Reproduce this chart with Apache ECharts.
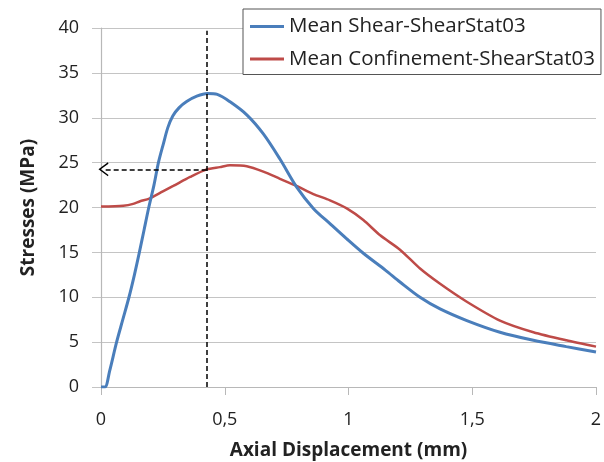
<!DOCTYPE html>
<html>
<head>
<meta charset="utf-8">
<script src="https://cdn.jsdelivr.net/npm/echarts@6/dist/echarts.min.js"></script>
<style>
  html, body { margin: 0; padding: 0; background: #fff; }
  #chart { width: 604px; height: 462px; }
</style>
</head>
<body>
<div id="chart"></div>
<script>
const seriesNames = ["Mean Shear-ShearStat03", "Mean Confinement-ShearStat03"];

const shearDisp = [0, 0.016, 0.035, 0.063, 0.088, 0.113, 0.135, 0.155, 0.174, 0.193, 0.214, 0.232, 0.252, 0.27, 0.29, 0.315, 0.346, 0.387, 0.43, 0.47, 0.52, 0.59, 0.656, 0.723, 0.79, 0.858, 0.925, 0.993, 1.06, 1.15, 1.208, 1.289, 1.37, 1.478, 1.612, 1.747, 1.88, 2.0];
const shearStress = [0, 0, 1.8, 5, 7.5, 10, 12.5, 15, 17.5, 20, 22.5, 25, 27.1, 28.9, 30.2, 31.1, 31.8, 32.4, 32.7, 32.6, 31.8, 30.3, 28.2, 25.4, 22.3, 19.9, 18.2, 16.5, 14.9, 13.0, 11.7, 10.0, 8.7, 7.4, 6.1, 5.2, 4.5, 3.9];

const confDisp = [0, 0.09, 0.13, 0.158, 0.195, 0.25, 0.292, 0.36, 0.427, 0.48, 0.521, 0.589, 0.656, 0.723, 0.79, 0.858, 0.925, 0.993, 1.06, 1.128, 1.208, 1.289, 1.37, 1.478, 1.612, 1.747, 1.88, 2.0];
const confStress = [20.1, 20.2, 20.4, 20.7, 21.0, 21.8, 22.4, 23.4, 24.25, 24.5, 24.7, 24.6, 24.0, 23.2, 22.4, 21.5, 20.8, 19.9, 18.6, 16.9, 15.3, 13.2, 11.5, 9.5, 7.4, 6.1, 5.2, 4.5];

// dashed guide: peak shear displacement and the confinement stress read there
const peakDisp = 0.427;
const readStress = 24.25;
const guideTop = 39.7;

const xTicks = { min: 0, max: 2, interval: 0.5 };
const yTicks = { min: 0, max: 40, interval: 5 };

const zip = (xs, ys) => xs.map((x, i) => [x, ys[i]]);

const chart = echarts.init(document.getElementById("chart"));
const font = "'Open Sans', sans-serif";
const gridGray = "#c4c4c4";
const blue = "#4a7ebb";
const red = "#be4b48";

chart.setOption({
  animation: false,
  textStyle: { fontFamily: font },
  grid: { left: 101, right: 8, top: 28, bottom: 75, outerBoundsMode: "none" },
  legend: {
    orient: "vertical",
    left: 243,
    top: 9,
    padding: [7, 6, 5, 7],
    itemGap: 11.5,
    itemWidth: 34,
    itemHeight: 3,
    icon: "rect",
    borderColor: "#555",
    borderWidth: 1,
    backgroundColor: "#fff",
    textStyle: { fontSize: 20.5, color: "#222", fontFamily: font },
    data: seriesNames
  },
  xAxis: {
    type: "value",
    min: xTicks.min,
    max: xTicks.max,
    interval: xTicks.interval,
    name: "Axial Displacement (mm)",
    nameLocation: "middle",
    nameGap: 54,
    nameTextStyle: { fontSize: 19, fontWeight: "bold", color: "#222" },
    axisLine: { lineStyle: { color: "#b8b8b8", width: 1.2 } },
    axisTick: { show: true, length: 8, lineStyle: { color: "#b8b8b8" } },
    axisLabel: {
      fontSize: 18,
      color: "#222",
      margin: 24,
      formatter: v => String(v).replace(".", ",")
    },
    splitLine: { show: false }
  },
  yAxis: {
    type: "value",
    min: yTicks.min,
    max: yTicks.max,
    interval: yTicks.interval,
    name: "Stresses (MPa)",
    nameLocation: "middle",
    nameGap: 63,
    nameTextStyle: { fontSize: 19, fontWeight: "bold", color: "#222" },
    axisLine: { show: true, lineStyle: { color: "#b8b8b8", width: 1.2 } },
    axisTick: { show: true, length: 9, lineStyle: { color: gridGray } },
    axisLabel: { fontSize: 18, color: "#222", margin: 22 },
    splitLine: { lineStyle: { color: gridGray, width: 1.2 } }
  },
  series: [
    {
      name: seriesNames[0],
      type: "line",
      data: zip(shearDisp, shearStress),
      smooth: 0.3,
      symbol: "none",
      lineStyle: { color: blue, width: 3 },
      itemStyle: { color: blue },
      z: 3,
      markLine: {
        silent: true,
        symbol: ["none", "none"],
        label: { show: false },
        lineStyle: { color: "#000", type: [5, 3], width: 1.5 },
        data: [
          [{ coord: [peakDisp, 0] }, { coord: [peakDisp, guideTop] }]
        ]
      }
    },
    {
      name: seriesNames[1],
      type: "line",
      data: zip(confDisp, confStress),
      smooth: 0.25,
      symbol: "none",
      lineStyle: { color: red, width: 2.5 },
      itemStyle: { color: red },
      z: 2,
      markLine: {
        silent: true,
        symbol: ["none", "path://M0,16 L10,0 L20,16 L18,17 L10,4 L2,17 Z"],
        symbolSize: [14, 10],
        label: { show: false },
        lineStyle: { color: "#000", type: [5, 3], width: 1.5 },
        data: [
          [{ coord: [peakDisp, readStress] }, { coord: [0.01, readStress] }]
        ]
      }
    }
  ]
});
</script>
</body>
</html>
